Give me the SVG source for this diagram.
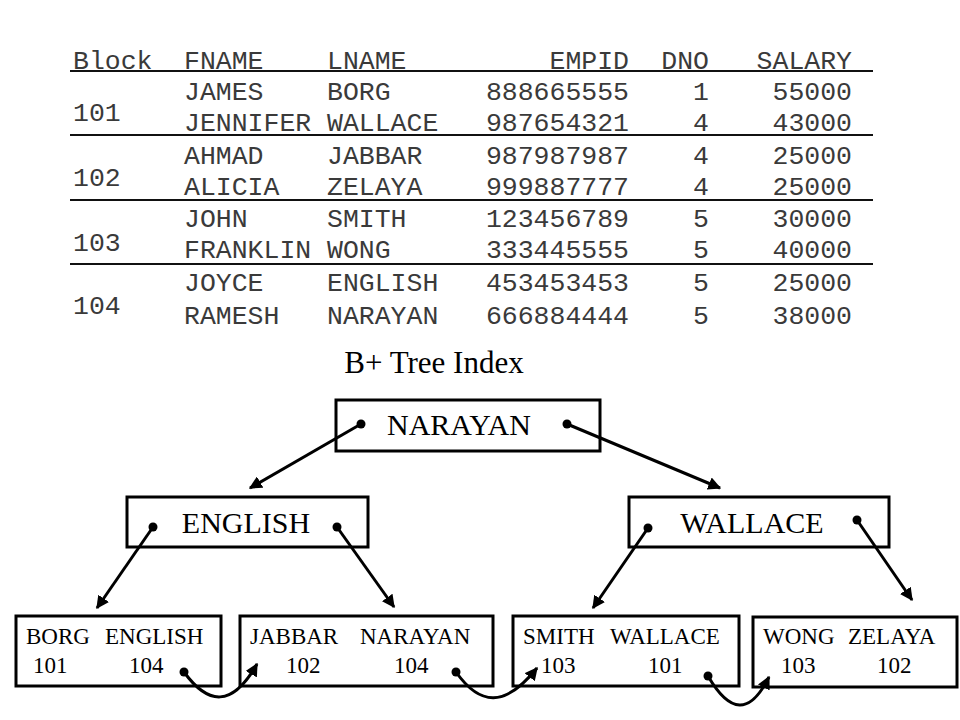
<svg xmlns="http://www.w3.org/2000/svg" width="960" height="720" viewBox="0 0 960 720">
<defs>
<style>
.tb{font-family:"Liberation Mono","Courier New",monospace;font-size:26.5px;fill:#3a3a3a}
.e{text-anchor:end}
.rule{stroke:#111;stroke-width:2}
.box{fill:#fff;stroke:#000;stroke-width:3}
.big{font-family:"Liberation Serif","Times New Roman",serif;font-size:30px;fill:#000;text-anchor:middle}
.leaf{font-family:"Liberation Serif","Times New Roman",serif;font-size:23px;fill:#000}
.ttl{font-family:"Liberation Serif","Times New Roman",serif;font-size:31px;fill:#000;text-anchor:middle}
.ln{fill:none;stroke:#000;stroke-width:3;marker-end:url(#ah)}
.dot{fill:#000}
</style>
<marker id="ah" viewBox="0 0 10 10" refX="9" refY="5" markerWidth="13" markerHeight="13" markerUnits="userSpaceOnUse" orient="auto">
<path d="M0,0 L10,5 L0,10 z" fill="#000"/>
</marker>
</defs>
<rect width="960" height="720" fill="#fff"/>

<g id="table">
<text class="tb" x="73" y="69">Block</text>
<text class="tb" x="184" y="69">FNAME</text>
<text class="tb" x="327" y="69">LNAME</text>
<text class="tb e" x="629" y="69">EMPID</text>
<text class="tb e" x="709" y="69">DNO</text>
<text class="tb e" x="852" y="69">SALARY</text>
<line class="rule" x1="70" y1="71" x2="873" y2="71"/>

<text class="tb" x="73" y="121">101</text>
<text class="tb" x="184" y="100">JAMES</text>
<text class="tb" x="327" y="100">BORG</text>
<text class="tb e" x="629" y="100">888665555</text>
<text class="tb e" x="709" y="100">1</text>
<text class="tb e" x="852" y="100">55000</text>
<text class="tb" x="184" y="131">JENNIFER</text>
<text class="tb" x="327" y="131">WALLACE</text>
<text class="tb e" x="629" y="131">987654321</text>
<text class="tb e" x="709" y="131">4</text>
<text class="tb e" x="852" y="131">43000</text>
<line class="rule" x1="70" y1="135" x2="873" y2="135"/>

<text class="tb" x="73" y="186">102</text>
<text class="tb" x="184" y="164">AHMAD</text>
<text class="tb" x="327" y="164">JABBAR</text>
<text class="tb e" x="629" y="164">987987987</text>
<text class="tb e" x="709" y="164">4</text>
<text class="tb e" x="852" y="164">25000</text>
<text class="tb" x="184" y="195">ALICIA</text>
<text class="tb" x="327" y="195">ZELAYA</text>
<text class="tb e" x="629" y="195">999887777</text>
<text class="tb e" x="709" y="195">4</text>
<text class="tb e" x="852" y="195">25000</text>
<line class="rule" x1="70" y1="200" x2="873" y2="200"/>

<text class="tb" x="73" y="251">103</text>
<text class="tb" x="184" y="227">JOHN</text>
<text class="tb" x="327" y="227">SMITH</text>
<text class="tb e" x="629" y="227">123456789</text>
<text class="tb e" x="709" y="227">5</text>
<text class="tb e" x="852" y="227">30000</text>
<text class="tb" x="184" y="258">FRANKLIN</text>
<text class="tb" x="327" y="258">WONG</text>
<text class="tb e" x="629" y="258">333445555</text>
<text class="tb e" x="709" y="258">5</text>
<text class="tb e" x="852" y="258">40000</text>
<line class="rule" x1="70" y1="264" x2="873" y2="264"/>

<text class="tb" x="73" y="314">104</text>
<text class="tb" x="184" y="291">JOYCE</text>
<text class="tb" x="327" y="291">ENGLISH</text>
<text class="tb e" x="629" y="291">453453453</text>
<text class="tb e" x="709" y="291">5</text>
<text class="tb e" x="852" y="291">25000</text>
<text class="tb" x="184" y="324">RAMESH</text>
<text class="tb" x="327" y="324">NARAYAN</text>
<text class="tb e" x="629" y="324">666884444</text>
<text class="tb e" x="709" y="324">5</text>
<text class="tb e" x="852" y="324">38000</text>
</g>

<text class="ttl" x="434" y="373">B+ Tree Index</text>

<g id="n-narayan">
<rect class="box" x="336" y="400" width="264" height="51"/>
<text class="big" x="459" y="435">NARAYAN</text>
</g>
<g id="n-english">
<rect class="box" x="127" y="497" width="241" height="50"/>
<text class="big" x="246" y="533">ENGLISH</text>
</g>
<g id="n-wallace">
<rect class="box" x="629" y="497" width="260" height="50"/>
<text class="big" x="752" y="533">WALLACE</text>
</g>
<g id="leaf1">
<rect class="box" x="16" y="616" width="205" height="70"/>
<text class="leaf" x="26" y="644">BORG</text>
<text class="leaf" x="105" y="644">ENGLISH</text>
<text class="leaf" x="33" y="673">101</text>
<text class="leaf" x="129" y="673">104</text>
</g>
<g id="leaf2">
<rect class="box" x="240" y="616" width="253" height="70"/>
<text class="leaf" x="250" y="644">JABBAR</text>
<text class="leaf" x="360" y="644">NARAYAN</text>
<text class="leaf" x="286" y="673">102</text>
<text class="leaf" x="394" y="673">104</text>
</g>
<g id="leaf3">
<rect class="box" x="513" y="616" width="226" height="70"/>
<text class="leaf" x="523" y="644">SMITH</text>
<text class="leaf" x="610" y="644">WALLACE</text>
<text class="leaf" x="541" y="673">103</text>
<text class="leaf" x="648" y="673">101</text>
</g>
<g id="leaf4">
<rect class="box" x="753" y="617" width="204" height="70"/>
<text class="leaf" x="763" y="644">WONG</text>
<text class="leaf" x="848" y="644">ZELAYA</text>
<text class="leaf" x="781" y="673">103</text>
<text class="leaf" x="877" y="673">102</text>
</g>

<g id="connectors">
<line class="ln" x1="361" y1="424" x2="250" y2="488"/>
<line class="ln" x1="567" y1="424" x2="720" y2="488"/>
<line class="ln" x1="153" y1="527" x2="97" y2="608"/>
<line class="ln" x1="337" y1="527" x2="394" y2="607"/>
<line class="ln" x1="648" y1="528" x2="593" y2="608"/>
<line class="ln" x1="857" y1="520" x2="912" y2="600"/>
<path class="ln" d="M184,672 C208,705 232,708 257,664"/>
<path class="ln" d="M456,672 C480,706 505,708 537,668"/>
<path class="ln" d="M708,676 C730,714 750,715 769,677"/>
<circle class="dot" cx="361" cy="424" r="4.5"/>
<circle class="dot" cx="567" cy="424" r="4.5"/>
<circle class="dot" cx="153" cy="527" r="4.5"/>
<circle class="dot" cx="337" cy="527" r="4.5"/>
<circle class="dot" cx="648" cy="528" r="4.5"/>
<circle class="dot" cx="857" cy="520" r="4.5"/>
<circle class="dot" cx="184" cy="672" r="4.5"/>
<circle class="dot" cx="456" cy="672" r="4.5"/>
<circle class="dot" cx="708" cy="676" r="4.5"/>
</g>
</svg>
